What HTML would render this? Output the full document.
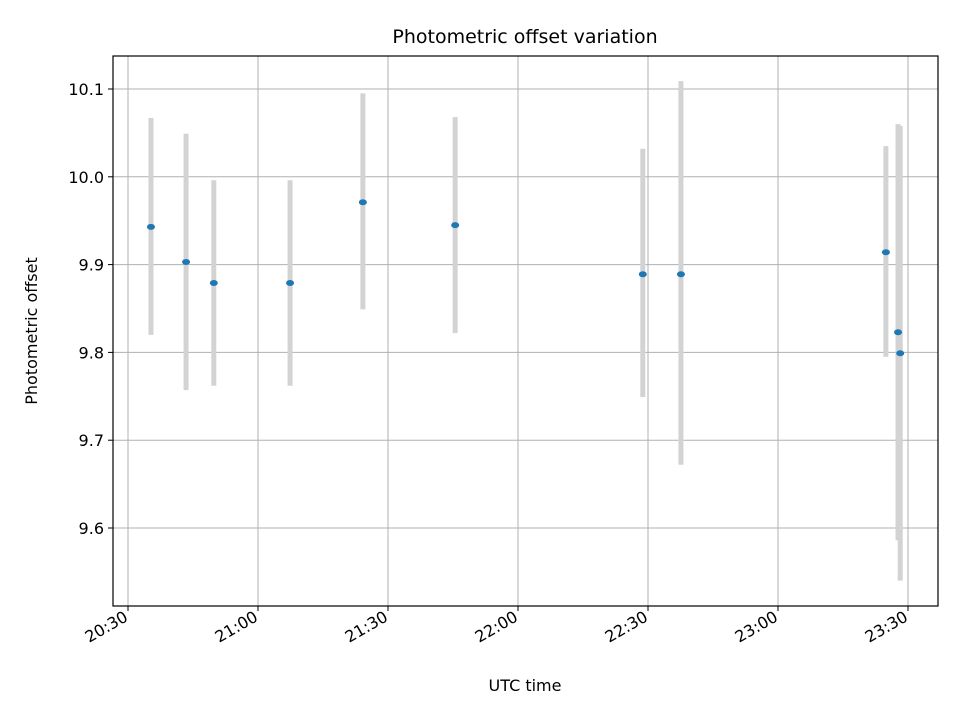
<!DOCTYPE html>
<html><head><meta charset="utf-8"><style>
body{margin:0;background:#fff;font-family:"Liberation Sans","DejaVu Sans",sans-serif}
</style></head><body>
<svg id="chart" width="960" height="720" xmlns="http://www.w3.org/2000/svg" font-family="DejaVu Sans, Liberation Sans, sans-serif"></svg>
<script>
const times = ["20:35.3","20:43.4","20:49.8","21:07.4","21:24.2","21:45.5","22:28.8","22:37.6","23:24.9","23:27.7","23:28.2"];
const offsets = [9.943,9.903,9.879,9.879,9.971,9.945,9.889,9.889,9.914,9.823,9.799];
const errHigh = [10.067,10.049,9.996,9.996,10.095,10.068,10.032,10.109,10.035,10.060,10.058];
const errLow = [9.820,9.757,9.762,9.762,9.849,9.822,9.749,9.672,9.795,9.586,9.540];
const xTicks = ["20:30","21:00","21:30","22:00","22:30","23:00","23:30"];
const yTicks = [9.6,9.7,9.8,9.9,10.0,10.1];

const NS="http://www.w3.org/2000/svg", svg=document.getElementById('chart');
const L=113,R=938,T=56,B=606;
function mins(s){const [h,m]=s.split(':');return (+h)*60+parseFloat(m);}
const x=t=>128+(mins(t)-mins("20:30"))*130/30;
const y=v=>89+(10.1-v)*878;
function el(tag,attrs,parent){const e=document.createElementNS(NS,tag);for(const k in attrs)e.setAttribute(k,attrs[k]);(parent||svg).appendChild(e);return e;}

const grid=el('g',{});


xTicks.forEach(t=>{const X=x(t);el('line',{x1:X,x2:X,y1:T,y2:B,stroke:'#b0b0b0','stroke-width':1},grid);});
yTicks.forEach(v=>{const Y=y(v);el('line',{x1:L,x2:R,y1:Y,y2:Y,stroke:'#b0b0b0','stroke-width':1},grid);});

const bars=el('g',{});


times.forEach((t,i)=>{const b=el('line',{x1:x(t),x2:x(t),y1:y(errHigh[i]),y2:y(errLow[i]),stroke:'#d3d3d3','stroke-width':5},bars);

});
const pts=el('g',{});


times.forEach((t,i)=>{const c=el('ellipse',{cx:x(t),cy:y(offsets[i]),rx:4,ry:3,fill:'#1f77b4'},pts);

});

const frame=el('rect',{x:L,y:T,width:R-L,height:B-T,fill:'none',stroke:'#000','stroke-width':1.2});



xTicks.forEach(t=>{const X=x(t);el('line',{x1:X,x2:X,y1:B,y2:B+5,stroke:'#000'});
const tx=el('text',{x:X+1,y:B+14,'font-size':16,'text-anchor':'end',transform:`rotate(-30 ${X+1} ${B+14})`});
tx.textContent=t;

});
yTicks.forEach(v=>{const Y=y(v);el('line',{x1:L-5,x2:L,y1:Y,y2:Y,stroke:'#000'});
const tx=el('text',{x:L-9,y:Y+6,'font-size':16,'text-anchor':'end'});
tx.textContent=v.toFixed(1);

});

const title=el('text',{x:525,y:43,'font-size':19,'text-anchor':'middle'});title.textContent='Photometric offset variation';


const xl=el('text',{x:525,y:691,'font-size':16,'text-anchor':'middle'});xl.textContent='UTC time';


const yl=el('text',{x:37,y:331,'font-size':16,'text-anchor':'middle',transform:'rotate(-90 37 331)'});yl.textContent='Photometric offset';


</script>
</body></html>
